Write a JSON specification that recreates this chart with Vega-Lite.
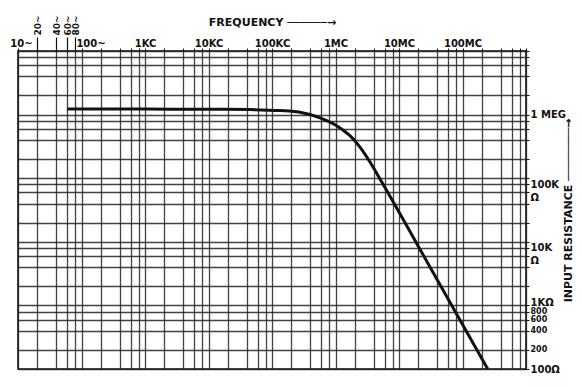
{
  "$schema": "https://vega.github.io/schema/vega-lite/v6.json",
  "width": 508,
  "height": 318,
  "autosize": {"type": "none"},
  "padding": {"left": 18, "top": 51, "right": 56, "bottom": 18},
  "background": "white",
  "config": {
    "view": {"stroke": "#111", "strokeWidth": 1.6},
    "font": "DejaVu Sans"
  },
  "data": {
    "values": [
      {"freq": 60, "ohms": 1220000},
      {"freq": 1000, "ohms": 1220000},
      {"freq": 10000, "ohms": 1212000},
      {"freq": 45100, "ohms": 1199000},
      {"freq": 133700, "ohms": 1156000},
      {"freq": 276000, "ohms": 1087000},
      {"freq": 570000, "ohms": 887000},
      {"freq": 1178000, "ohms": 618000},
      {"freq": 1691000, "ohms": 466000},
      {"freq": 2430000, "ohms": 307000},
      {"freq": 3490000, "ohms": 179300},
      {"freq": 5020000, "ohms": 97500},
      {"freq": 30760000, "ohms": 4010},
      {"freq": 250000000, "ohms": 100}
    ]
  },
  "layer": [
    {
      "mark": {"type": "line", "interpolate": "monotone", "color": "#111", "strokeWidth": 3, "clip": true},
      "encoding": {
        "x": {
          "field": "freq", "type": "quantitative",
          "scale": {"type": "log", "domain": [10, 1000000000], "nice": false},
          "axis": {
            "orient": "top",
            "values": [10,20,40,60,80,100,200,400,600,800,1000,2000,4000,6000,8000,10000,20000,40000,60000,80000,100000,200000,400000,600000,800000,1000000,2000000,4000000,6000000,8000000,10000000,20000000,40000000,60000000,80000000,100000000,200000000,400000000,600000000,800000000,1000000000],
            "labelExpr": "datum.value==10?'10~':datum.value==100?'100~':datum.value==1000?'1KC':datum.value==10000?'10KC':datum.value==100000?'100KC':datum.value==1000000?'1MC':datum.value==10000000?'10MC':datum.value==100000000?'100MC':''",
            "labelOffset": {"condition": [{"test": "datum.value==100", "value": 9}, {"test": "datum.value==10", "value": 3}], "value": 0},
            "grid": true, "gridColor": "#222", "gridWidth": 1.3, "gridOpacity": 0.85,
            "domain": false,
            "ticks": true, "tickSize": 3, "tickColor": "#111",
            "labelFont": "DejaVu Sans", "labelFontWeight": "bold", "labelFontSize": 10, "labelColor": "#111",
            "labelPadding": 0, "labelOverlap": false, "labelFlush": false,
            "title": "FREQUENCY ──────→",
            "titleFont": "DejaVu Sans", "titleFontSize": 11, "titleFontWeight": "bold", "titleColor": "#111", "titlePadding": 11
          }
        },
        "y": {
          "field": "ohms", "type": "quantitative",
          "scale": {"type": "log", "domain": [100, 10000000], "nice": false},
          "axis": {
            "orient": "right",
            "values": [100,200,400,600,800,1000,2000,4000,6000,8000,10000,20000,40000,60000,80000,100000,200000,400000,600000,800000,1000000,2000000,4000000,6000000,8000000,10000000],
            "labelExpr": "datum.value==1000000?'1 MEG':datum.value==100000?['100K','Ω']:datum.value==10000?['10K','Ω']:datum.value==1000?'1KΩ':datum.value==800?'800':datum.value==600?'600':datum.value==400?'400':datum.value==200?'200':datum.value==100?'100Ω':''",
            "grid": true, "gridColor": "#222", "gridWidth": 1.3, "gridOpacity": 0.85,
            "domain": false,
            "ticks": true, "tickSize": 3, "tickColor": "#111",
            "labelFont": "DejaVu Sans", "labelFontWeight": "bold", "labelColor": "#111",
            "labelFontSize": {"condition": {"test": "datum.value>=200 && datum.value<=800", "value": 8}, "value": 10},
            "labelOffset": {"condition": [{"test": "datum.value==100000 || datum.value==10000", "value": 6}, {"test": "datum.value==1000", "value": -3}], "value": 0},
            "labelLineHeight": 13,
            "labelPadding": 1, "labelOverlap": false, "labelFlush": false,
            "title": "INPUT  RESISTANCE  ────────→",
            "titleAngle": 270,
            "titleFont": "DejaVu Sans", "titleFontSize": 11, "titleFontWeight": "bold", "titleColor": "#111", "titlePadding": 8
          }
        }
      }
    },
    {
      "mark": {"type": "rule", "opacity": 0},
      "encoding": {
        "x": {
          "field": "freq", "type": "quantitative",
          "axis": {
            "orient": "top",
            "values": [20, 40, 60, 80],
            "labelExpr": "datum.value + '~'",
            "labelAngle": 270,
            "grid": false, "domain": false,
            "ticks": true, "tickSize": 14, "tickColor": "#111", "tickWidth": 1.2,
            "labelFont": "DejaVu Sans", "labelFontWeight": "bold", "labelFontSize": 9, "labelColor": "#111",
            "labelPadding": 2, "labelOverlap": false, "labelFlush": false,
            "title": null
          }
        }
      }
    }
  ],
  "resolve": {"axis": {"x": "independent"}}
}
